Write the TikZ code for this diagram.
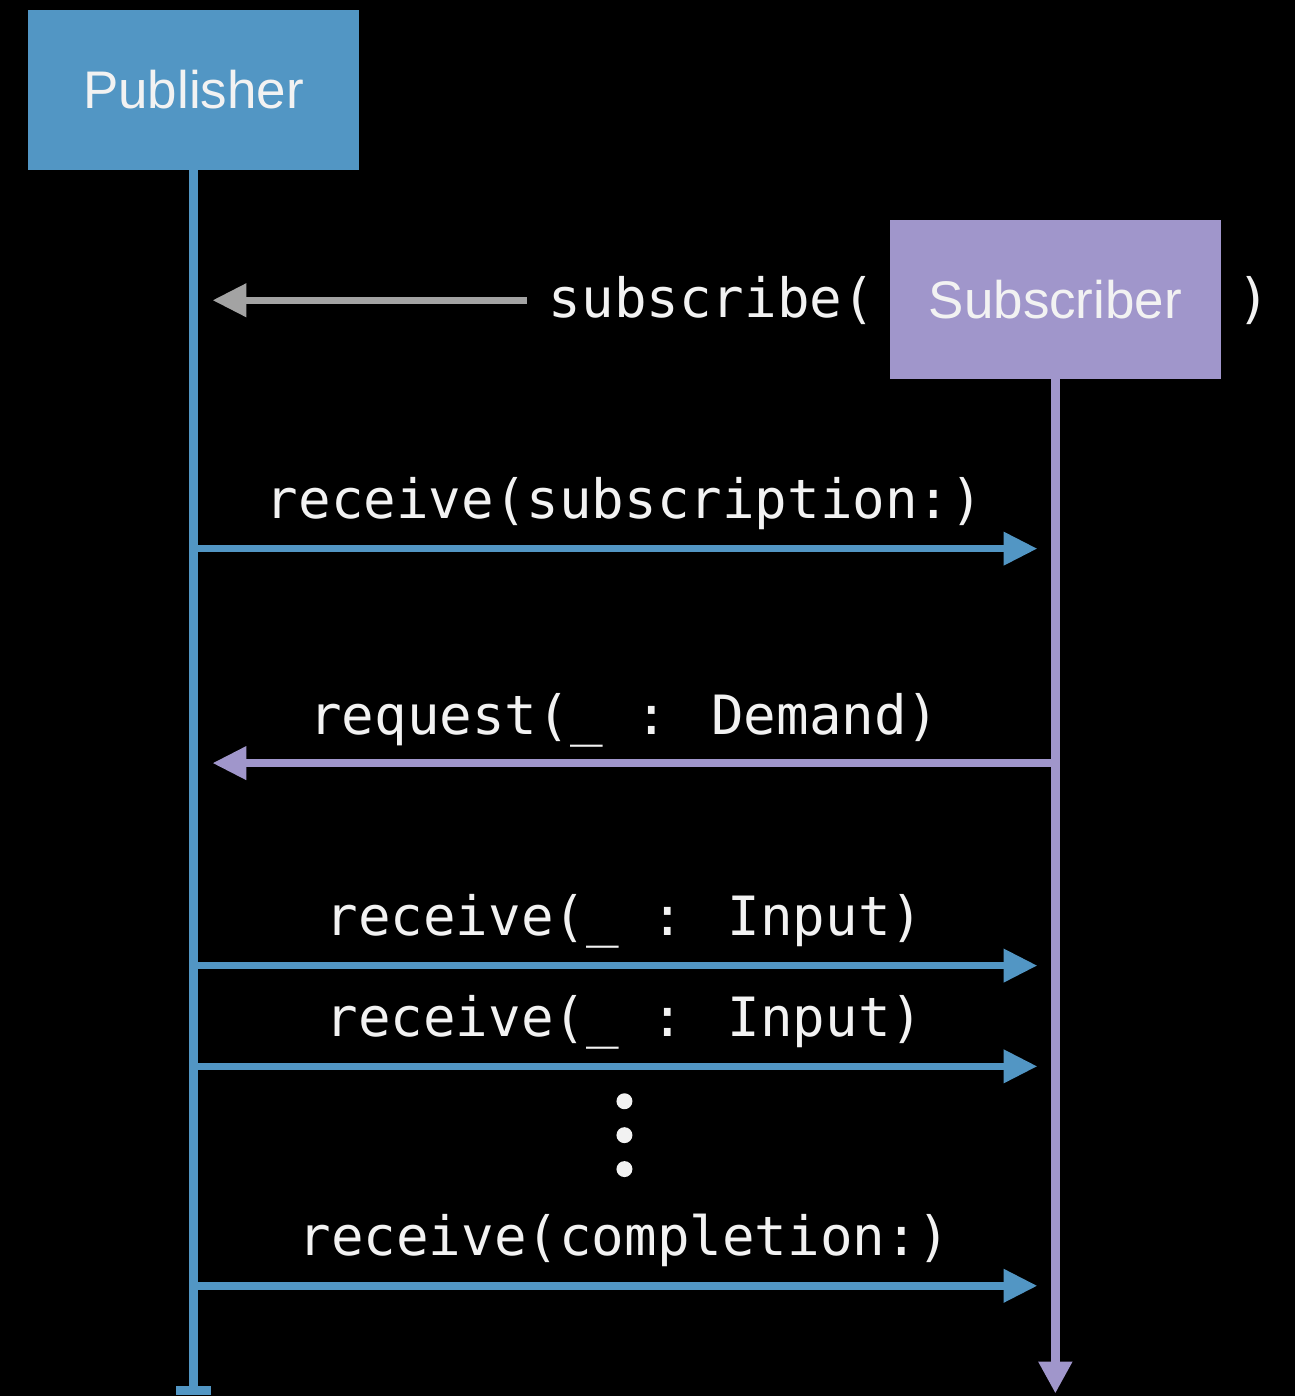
\documentclass[tikz,border=0pt]{standalone}
\usepackage{fontspec}
\setmainfont{Liberation Sans}
\newfontfamily\codefont{DejaVu Sans Mono}
\usetikzlibrary{arrows.meta}
\definecolor{pubblue}{RGB}{82,150,196}
\definecolor{subpurple}{RGB}{160,150,203}
\definecolor{callgrey}{RGB}{163,163,163}
\definecolor{labelwhite}{RGB}{242,242,242}
\tikzstyle{actor}=[rectangle,minimum width=6.64cm,minimum height=3.2cm,inner sep=0pt,text=labelwhite,font=\fontsize{30.2}{35}\selectfont]
\tikzstyle{publine}=[draw=pubblue,line width=0.18cm]
\tikzstyle{subline}=[draw=subpurple,line width=0.17cm]
\tikzstyle{msg}=[draw,line width=0.15cm,-{Triangle[length=0.68cm,width=0.64cm]}]
\tikzstyle{call}=[text=labelwhite,font=\codefont\fontsize{30.9}{36}\selectfont,inner sep=0pt]
\tikzstyle{dot}=[circle,fill=labelwhite,minimum size=0.32cm,inner sep=0pt]

\begin{document}
\begin{tikzpicture}[x=0.02cm,y=-0.02cm]

% background
    \fill[black] (0,0) rectangle (1298,1399);

% actors
    \node[actor,fill=pubblue] (pub) at (194,90) {Publisher};
    \node[actor,fill=subpurple,minimum height=3.18cm] (sub) at (1058,300.5) {Subscriber};

% lifelines
    \coordinate (pubend) at (194,1398);
    \coordinate (subend) at (1058,1397);
    \path[publine,-{Bar[width=0.72cm]}] (pub.south) -- (pubend);
    \path[subline,-{Triangle[length=0.64cm,width=0.64cm]}] (sub.south) -- (subend);

% subscribe call
    \node[call,anchor=base west] (subcall) at (550,318) {subscribe(};
    \node[call,anchor=base] (subclose) at (1257,318) {)};
    \coordinate (subfrom) at (528,301);
    \coordinate (subto) at (213,301);
    \path[msg,callgrey] (subfrom) -- (subto);

% Edges
    %publisher to subscriber
    \foreach \y/\name/\label in {550/recsub/{receive(subscription:)}, 968/recinA/{receive(\_ : Input)}, 1069/recinB/{receive(\_ : Input)}, 1289/reccomp/{receive(completion:)}}
    {
        \coordinate (\name from) at (194,\y);
        \coordinate (\name to) at (1040,\y);
        \node[call,anchor=base] (\name label) at (626,\y-30) {\label};
        \path[msg,pubblue] (\name from) -- (\name to);
    }

    %subscriber to publisher
    \coordinate (reqfrom) at (1058,765);
    \coordinate (reqto) at (213,765);
    \node[call,anchor=base] (reqlabel) at (626,736) {request(\_ : Demand)};
    \path[msg,subpurple] (reqfrom) -- (reqto);

% dots
    \foreach \y/\name in {1104/dotA, 1138/dotB, 1172/dotC}
        \node[dot] (\name) at (626,\y) {};

\end{tikzpicture}
\end{document}
